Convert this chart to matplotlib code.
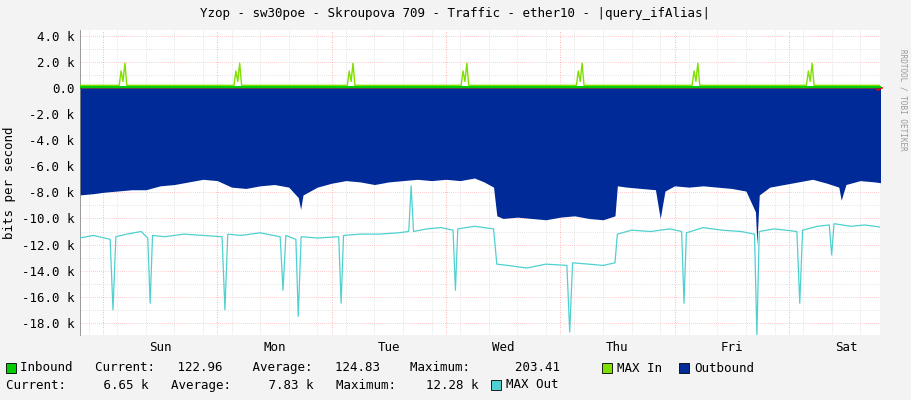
import matplotlib
matplotlib.use("Agg")
import matplotlib.pyplot as plt
from matplotlib.patches import Rectangle

# time in hours from Sunday 00:00
out_t = [-5, -2, 0, 3, 6, 9, 12, 15, 18, 21, 24, 27, 30, 33, 36, 39, 41, 41.5, 42, 45, 48, 51, 54, 57, 60, 63, 66, 69, 72, 75, 78, 80, 82, 82.7, 84, 87, 90, 93, 96, 99, 102, 105, 107.5, 108, 110, 113, 116, 117, 118, 120, 123, 126, 129, 132, 135, 137, 137.3, 137.8, 140, 143, 146, 149, 152, 154.5, 155, 156, 159, 162, 164]
out_v = [-8.2, -8.1, -8.0, -7.9, -7.8, -7.8, -7.5, -7.4, -7.2, -7.0, -7.1, -7.6, -7.7, -7.5, -7.4, -7.6, -8.4, -9.3, -8.2, -7.6, -7.3, -7.1, -7.2, -7.4, -7.2, -7.1, -7.0, -7.1, -7.0, -7.1, -6.9, -7.2, -7.6, -9.8, -10.0, -9.9, -10.0, -10.1, -9.9, -9.8, -10.0, -10.1, -9.8, -7.5, -7.6, -7.7, -7.8, -10.0, -7.9, -7.5, -7.6, -7.5, -7.6, -7.7, -7.9, -9.5, -12.0, -8.2, -7.6, -7.4, -7.2, -7.0, -7.3, -7.6, -8.6, -7.4, -7.1, -7.2, -7.3]

maxout_t = [-5, -2, 1.5, 2.1, 2.7, 5, 8, 9.4, 9.9, 10.4, 13, 17, 21, 25, 25.6, 26.2, 29, 33, 37.2, 37.8, 38.4, 40.5, 41, 41.6, 45, 49.5, 50, 50.5, 54, 58, 62, 64.2, 64.7, 65.2, 68, 71, 73.5, 74, 74.5, 78, 82, 82.7, 85, 89, 93, 97.4, 98, 98.6, 102, 105, 107.5, 108, 111, 115, 119, 121.5, 122, 122.5, 126, 130, 134, 136.8, 137.3, 137.8, 141, 145.7, 146.3, 146.9, 150, 152.5, 153, 153.5, 157, 160, 164]
maxout_v = [-11.5, -11.3, -11.6, -17.0, -11.4, -11.2, -11.0, -11.5, -16.5, -11.3, -11.4, -11.2, -11.3, -11.4, -17.0, -11.2, -11.3, -11.1, -11.4, -15.5, -11.3, -11.6, -17.5, -11.4, -11.5, -11.4, -16.5, -11.3, -11.2, -11.2, -11.1, -11.0, -7.5, -11.0, -10.8, -10.7, -10.9, -15.5, -10.8, -10.6, -10.8, -13.5, -13.6, -13.8, -13.5, -13.6, -18.7, -13.4, -13.5, -13.6, -13.4, -11.2, -10.9, -11.0, -10.8, -11.0, -16.5, -11.1, -10.7, -10.9, -11.0, -11.2, -18.9, -11.0, -10.8, -11.0, -16.5, -10.9, -10.6, -10.5, -12.8, -10.4, -10.6, -10.5, -10.7]

in_t = [-5, 164]
in_v = [0.123, 0.123]

maxin_t = [-5, 3.4, 3.8, 4.2, 4.6, 5.0, 27.5, 27.9, 28.3, 28.7, 29.1, 51.3, 51.7, 52.1, 52.5, 52.9, 75.2, 75.6, 76.0, 76.4, 76.8, 99.4, 99.8, 100.2, 100.6, 101.0, 123.7, 124.1, 124.5, 124.9, 125.3, 147.7, 148.1, 148.5, 148.9, 149.3, 164]
maxin_v = [0.2, 0.2, 1.3, 0.5, 1.9, 0.2, 0.2, 1.3, 0.5, 1.9, 0.2, 0.2, 1.3, 0.5, 1.9, 0.2, 0.2, 1.3, 0.5, 1.9, 0.2, 0.2, 1.3, 0.5, 1.9, 0.2, 0.2, 1.3, 0.5, 1.9, 0.2, 0.2, 1.3, 0.5, 1.9, 0.2, 0.2]

day_labels = ["Sun", "Mon", "Tue", "Wed", "Thu", "Fri", "Sat"]
ytick_vals = [4, 2, 0, -2, -4, -6, -8, -10, -12, -14, -16, -18]

W, H = 911, 400
fig = plt.figure(figsize=(W/100, H/100), dpi=100, facecolor="#f3f3f3")
ax = fig.add_axes([80/W, (H-335)/H, 800/W, 305/H], facecolor="white")
x0 = (80-103)/4.7625
x1 = (880-103)/4.7625
ax.set_xlim(x0, x1)
ax.set_ylim(-18.93, 4.44)

for y in range(-18, 5):
    ax.axhline(y, color="#ff9999" if y % 2 == 0 else "#cccccc", lw=0.5, ls=(0, (1, 2)), zorder=0)
for h in range(-3, 166, 6):
    ax.axvline(h, color="#cccccc", lw=0.5, ls=(0, (1, 2)), zorder=0)
for d in range(0, 7):
    ax.axvline(d*24, color="#ff9999", lw=0.6, ls=(0, (1, 2)), zorder=0)

ax.fill_between(out_t, 0, out_v, color="#002a97", lw=0, zorder=2)
ax.plot(maxout_t, maxout_v, color="#50d0d0", lw=0.9, zorder=3)
ax.fill_between(in_t, 0, in_v, color="#00cc00", lw=0, zorder=4)
ax.plot(maxin_t, maxin_v, color="#7fe000", lw=1.0, zorder=5)
ax.axhline(0, color="#444444", lw=0.6, zorder=6)

ax.set_xticks([d*24 + 12 for d in range(7)])
ax.set_xticklabels(day_labels)
ax.set_yticks(ytick_vals)
ax.set_yticklabels(["%.1f k" % v if v != 0 else "0.0" for v in ytick_vals])
for lab in ax.get_xticklabels() + ax.get_yticklabels():
    lab.set_fontfamily("DejaVu Sans Mono")
    lab.set_fontsize(9)
ax.tick_params(length=0, pad=4)
for s in ax.spines.values():
    s.set_visible(False)
ax.annotate("", xy=(x1 + 1.3, 0), xytext=(x0, 0), arrowprops=dict(arrowstyle="-|>", color="#ff0000", lw=0.6), annotation_clip=False)
ax.plot([x0, x0], [-18.93, 4.44], color="#888888", lw=0.6, clip_on=False)
ax.set_ylabel("bits per second", fontsize=9, family="DejaVu Sans Mono", labelpad=4)

fig.text(455/W, 1 - 14/H, "Yzop - sw30poe - Skroupova 709 - Traffic - ether10 - |query_ifAlias|",
         ha="center", va="center", fontsize=9, family="DejaVu Sans Mono")
fig.text(903/W, 1 - 100/H, "RRDTOOL / TOBI OETIKER", rotation=270, ha="center", va="center",
         fontsize=5.5, color="#999999", family="DejaVu Sans Mono")

def box(x, y, c):
    fig.patches.append(Rectangle((x/W, 1 - (y+5)/H), 10/W, 10/H, transform=fig.transFigure,
                                 facecolor=c, edgecolor="black", lw=0.6))

mono = dict(fontsize=9, family="DejaVu Sans Mono", va="center")
box(6, 368, "#00cc00")
fig.text(20/W, 1 - 368/H, "Inbound   Current:   122.96    Average:   124.83    Maximum:      203.41", **mono)
box(602, 368, "#7fe000")
fig.text(617/W, 1 - 368/H, "MAX In", **mono)
box(679, 368, "#002a97")
fig.text(694/W, 1 - 368/H, "Outbound", **mono)
fig.text(6/W, 1 - 385/H, "Current:     6.65 k   Average:     7.83 k   Maximum:    12.28 k", **mono)
box(491, 385, "#50d0d0")
fig.text(506/W, 1 - 385/H, "MAX Out", **mono)

fig.savefig("out.png", dpi=100, facecolor=fig.get_facecolor())
